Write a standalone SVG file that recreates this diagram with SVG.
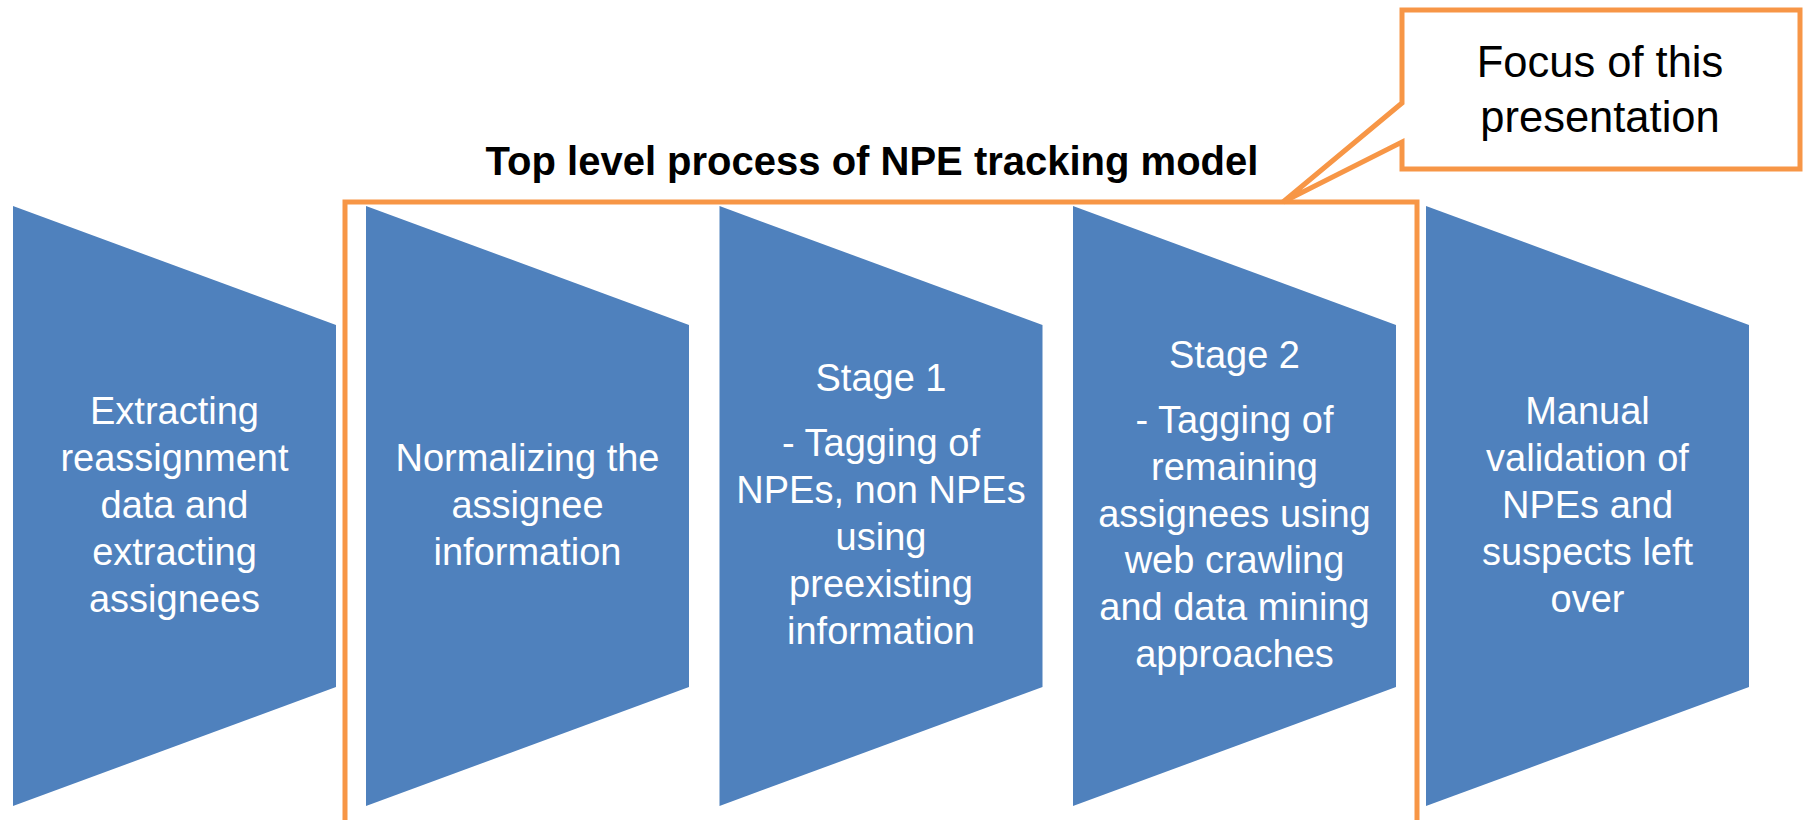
<svg xmlns="http://www.w3.org/2000/svg" width="1804" height="820" viewBox="0 0 1804 820">
<style>
.step{fill:#4F81BD}
.st{font-family:"Liberation Sans",Arial,sans-serif;font-size:38px;fill:#FFFFFF;text-anchor:middle}
.frame{fill:none;stroke:#F79646;stroke-width:5;stroke-linejoin:miter}
.callout{fill:#FFFFFF;stroke:#F79646;stroke-width:5;stroke-linejoin:miter}
.title{font-family:"Liberation Sans",Arial,sans-serif;font-size:40px;font-weight:bold;fill:#000000;text-anchor:middle}
.ct{font-family:"Liberation Sans",Arial,sans-serif;font-size:43.5px;fill:#000000;text-anchor:middle}
</style>
<rect width="1804" height="820" fill="#FFFFFF"/>
<g id="title"><text class="title" x="872" y="175">Top level process of NPE tracking model</text></g>
<g id="step1">
<polygon class="step" points="13,206 336,325 336,687 13,806"/>
<text class="st" x="174.5" y="424">Extracting</text>
<text class="st" x="174.5" y="471">reassignment</text>
<text class="st" x="174.5" y="518">data and</text>
<text class="st" x="174.5" y="565">extracting</text>
<text class="st" x="174.5" y="612">assignees</text>
</g>
<g id="step2">
<polygon class="step" points="366,206 689,325 689,687 366,806"/>
<text class="st" x="527.5" y="471">Normalizing the</text>
<text class="st" x="527.5" y="518">assignee</text>
<text class="st" x="527.5" y="565">information</text>
</g>
<g id="step3">
<polygon class="step" points="719.5,206 1042.5,325 1042.5,687 719.5,806"/>
<text class="st" x="881" y="391">Stage 1</text>
<text class="st" x="881" y="456">- Tagging of</text>
<text class="st" x="881" y="503">NPEs, non NPEs</text>
<text class="st" x="881" y="550">using</text>
<text class="st" x="881" y="597">preexisting</text>
<text class="st" x="881" y="644">information</text>
</g>
<g id="step4">
<polygon class="step" points="1073,206 1396,325 1396,687 1073,806"/>
<text class="st" x="1234.5" y="368">Stage 2</text>
<text class="st" x="1234.5" y="433">- Tagging of</text>
<text class="st" x="1234.5" y="480">remaining</text>
<text class="st" x="1234.5" y="527">assignees using</text>
<text class="st" x="1234.5" y="573">web crawling</text>
<text class="st" x="1234.5" y="620">and data mining</text>
<text class="st" x="1234.5" y="667">approaches</text>
</g>
<g id="step5">
<polygon class="step" points="1426,206 1749,325 1749,687 1426,806"/>
<text class="st" x="1587.5" y="424">Manual</text>
<text class="st" x="1587.5" y="471">validation of</text>
<text class="st" x="1587.5" y="518">NPEs and</text>
<text class="st" x="1587.5" y="565">suspects left</text>
<text class="st" x="1587.5" y="612">over</text>
</g>
<g id="focus-frame">
<path class="frame" d="M345,830 V202 H1417 V830"/>
</g>
<g id="callout">
<path class="callout" d="M1402,10 H1800 V169 H1402 V142 L1283,202 L1402,103 Z"/>
<text class="ct" x="1600" y="77">Focus of this</text>
<text class="ct" x="1600" y="132">presentation</text>
</g>
<g id="connectors"></g>
</svg>
